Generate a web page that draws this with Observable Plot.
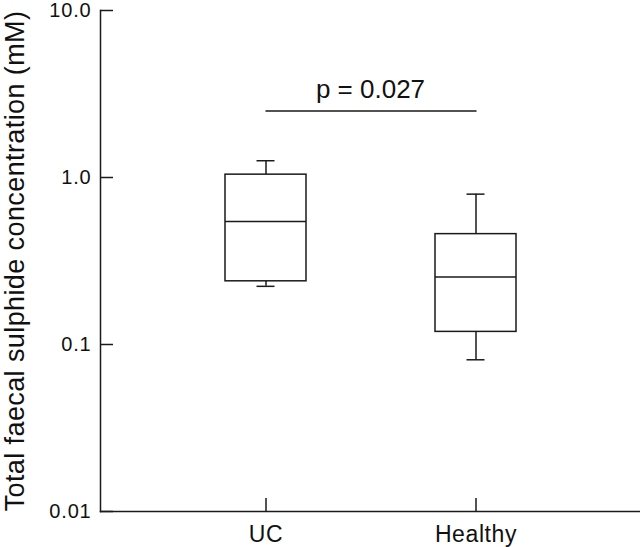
<!DOCTYPE html>
<html>
<head>
<meta charset="utf-8">
<script src="https://cdn.jsdelivr.net/npm/d3@7"></script>
<script src="https://cdn.jsdelivr.net/npm/@observablehq/plot@0.6"></script>
<style>
  html, body { margin: 0; padding: 0; background: #fff; }
  svg g[aria-label="y-axis tick label"], svg g[aria-label="y-axis tick label"] text { font-size: 20px; letter-spacing: 0.8px; }
  svg g[aria-label="y-axis label"], svg g[aria-label="y-axis label"] text { font-size: 27px; letter-spacing: 0.4px; }
  svg g[aria-label="x-axis tick label"], svg g[aria-label="x-axis tick label"] text { font-size: 23px; letter-spacing: 0.6px; }
</style>
</head>
<body>
<div id="chart"></div>
<script>
// Data
const groups = ["UC", "Healthy"];
const minV = [0.223, 0.081];
const q1V = [0.239, 0.119];
const medV = [0.545, 0.254];
const q3V = [1.04, 0.458];
const maxV = [1.26, 0.795];

const yTicks = [0.01, 0.1, 1, 10];
const yTickLabels = ["0.01", "0.1", "1.0", "10.0"];
const yLabel = "Total faecal sulphide concentration (mM)";

const pLabel = "p = 0.027";
const bracketLevel = 2.5;

const rows = groups.map((g, i) => ({group: g, min: minV[i], q1: q1V[i], median: medV[i], q3: q3V[i], max: maxV[i]}));
const bracket = groups.map(g => ({group: g, y: bracketLevel}));

const ink = "#1a1a1a";

const chart = Plot.plot({
  width: 640,
  height: 547,
  marginLeft: 100,
  marginRight: 0,
  marginTop: 10,
  marginBottom: 36,
  style: {fontFamily: "'Liberation Sans', Arial, Helvetica, sans-serif", background: "#fff", color: "#111"},
  x: {type: "band", domain: groups, range: [161, 581], paddingInner: 0.614, paddingOuter: 0.307, align: 0.5, label: null},
  y: {type: "log", domain: [0.01, 10], label: yLabel},
  marks: [
    Plot.frame({anchor: "left", stroke: ink, strokeWidth: 1.5}),
    Plot.frame({anchor: "bottom", stroke: ink, strokeWidth: 1.5}),
    Plot.axisY({
      ticks: yTicks,
      tickFormat: d => yTickLabels[yTicks.indexOf(d)],
      tickSize: -13,
      tickPadding: 22,
      fontSize: 20,
      stroke: ink,
      strokeWidth: 1.5,
      label: yLabel,
      labelAnchor: "center",
      labelArrow: "none",
      labelOffset: 96
    }),
    Plot.axisX({tickSize: -13, tickPadding: 27, fontSize: 23, stroke: ink, strokeWidth: 1.5, label: null}),
    // whiskers
    Plot.ruleX(rows, {x: "group", y1: "q3", y2: "max", stroke: ink, strokeWidth: 1.5}),
    Plot.ruleX(rows, {x: "group", y1: "min", y2: "q1", stroke: ink, strokeWidth: 1.5}),
    Plot.tickY(rows, {x: "group", y: "max", insetLeft: 31.5, insetRight: 31.5, stroke: ink, strokeWidth: 1.5}),
    Plot.tickY(rows, {x: "group", y: "min", insetLeft: 31.5, insetRight: 31.5, stroke: ink, strokeWidth: 1.5}),
    // boxes
    Plot.barY(rows, {x: "group", y1: "q1", y2: "q3", fill: "#fff", stroke: ink, strokeWidth: 1.5}),
    Plot.tickY(rows, {x: "group", y: "median", stroke: ink, strokeWidth: 1.5}),
    // significance bracket
    Plot.lineY(bracket, {x: "group", y: "y", stroke: ink, strokeWidth: 1.5}),
    Plot.text([{label: pLabel, y: bracketLevel}], {text: "label", y: "y", lineAnchor: "bottom", dy: -13, fontSize: 26, fill: "#111"})
  ]
});

document.getElementById("chart").appendChild(chart);
</script>
</body>
</html>
